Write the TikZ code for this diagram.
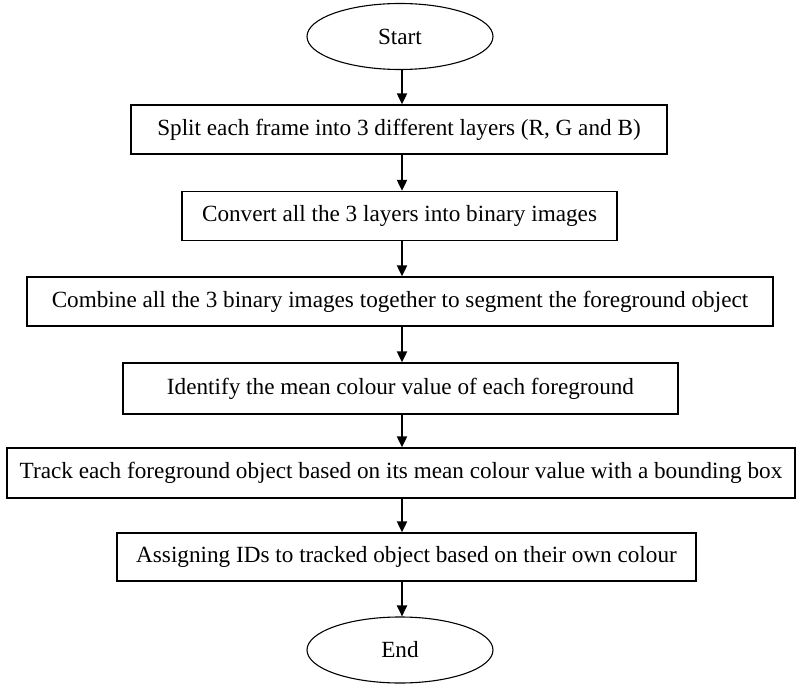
\documentclass[tikz,border=0pt]{standalone}
\usepackage{fontspec}
\setmainfont{Liberation Serif}
\usetikzlibrary{shapes.geometric,arrows.meta}
\begin{document}
\begin{tikzpicture}[x=1pt,y=-1pt,
  every node/.style={font=\fontsize{23.2}{27}\selectfont, inner sep=0pt},
  stepbox/.style={draw, line width=1.3pt, rectangle, minimum height=49pt},
  term/.style={draw, line width=1.1pt, ellipse, minimum width=186pt, minimum height=66pt},
  arr/.style={line width=2pt, -{Triangle[length=11pt,width=10pt]}}]
\useasboundingbox (0,0) rectangle (797,684);
\node[term] (start) at (400,36.5) {Start};
\node[stepbox, minimum width=536pt] (b1) at (399,129.5) {Split each frame into 3 different layers (R, G and B)};
\node[stepbox, minimum width=435pt] (b2) at (399.5,216) {Convert all the 3 layers into binary images};
\node[stepbox, minimum width=746pt] (b3) at (400,301.5) {Combine all the 3 binary images together to segment the foreground object};
\node[stepbox, minimum width=555pt, minimum height=51pt] (b4) at (400.5,388.5) {Identify the mean colour value of each foreground};
\node[stepbox, minimum width=788pt, minimum height=50pt] (b5) at (401,473) {Track each foreground object based on its mean colour value with a bounding box};
\node[stepbox, minimum width=579pt, minimum height=48pt] (b6) at (406.5,557) {Assigning IDs to tracked object based on their own colour};
\node[term] (end) at (400,650) {End};
\coordinate (ax) at (402,0);
\draw[arr] (start.south -| ax) -- (b1.north -| ax);
\draw[arr] (b1.south -| ax) -- (b2.north -| ax);
\draw[arr] (b2.south -| ax) -- (b3.north -| ax);
\draw[arr] (b3.south -| ax) -- (b4.north -| ax);
\draw[arr] (b4.south -| ax) -- (b5.north -| ax);
\draw[arr] (b5.south -| ax) -- (b6.north -| ax);
\draw[arr] (b6.south -| ax) -- (end.north -| ax);
\end{tikzpicture}
\end{document}
